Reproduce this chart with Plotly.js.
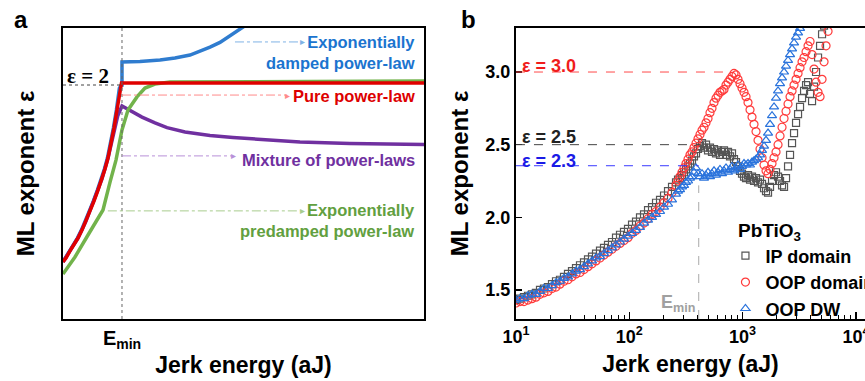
<!DOCTYPE html>
<html>
<head>
<meta charset="utf-8">
<script src="https://cdn.plot.ly/plotly-3.0.1.min.js"></script>
<style>html,body{margin:0;padding:0;background:#fff;}#chart{width:865px;height:381px;overflow:hidden;}</style>
</head>
<body>
<div id="chart"></div>
<script>
// ---------- Panel a: schematic curves (x in units of E_min, y in units of epsilon) ----------
const aPureX = [0, 0.051, 0.119, 0.186, 0.254, 0.322, 0.390, 0.458, 0.525, 0.593, 0.661, 0.712, 0.763, 0.814, 0.864, 0.915, 0.966, 0.992, 6.12];
const aPureY = [1.244, 1.261, 1.291, 1.316, 1.346, 1.380, 1.419, 1.462, 1.504, 1.551, 1.598, 1.641, 1.688, 1.748, 1.816, 1.893, 1.987, 2.009, 2.009];

const aDampX = [0, 0.041, 0.109, 0.176, 0.244, 0.312, 0.380, 0.448, 0.515, 0.583, 0.651, 0.702, 0.753, 0.804, 0.854, 0.905, 0.956, 0.99, 1.0, 1.0, 1.017, 1.305, 1.644, 1.898, 2.153, 2.322, 2.492, 2.661, 2.831, 2.966, 3.102, 3.2];
const aDampY = [1.244, 1.261, 1.291, 1.316, 1.346, 1.380, 1.419, 1.462, 1.504, 1.551, 1.598, 1.641, 1.688, 1.748, 1.816, 1.893, 1.987, 2.0, 2.0, 2.098, 2.098, 2.100, 2.107, 2.115, 2.128, 2.143, 2.162, 2.182, 2.209, 2.231, 2.256, 2.28];

const aMixX = [0, 0.119, 0.254, 0.390, 0.525, 0.661, 0.763, 0.864, 0.93, 1.0, 1.169, 1.339, 1.559, 1.763, 2.068, 2.492, 2.881, 3.424, 4.017, 4.864, 6.12];
const aMixY = [1.244, 1.291, 1.346, 1.419, 1.504, 1.598, 1.688, 1.80, 1.87, 1.910, 1.885, 1.863, 1.838, 1.818, 1.799, 1.784, 1.776, 1.765, 1.756, 1.750, 1.746];

const aPreX = [0, 0.203, 0.424, 0.678, 0.797, 0.898, 1.0, 1.102, 1.254, 1.390, 1.559, 1.814, 6.12];
const aPreY = [1.192, 1.265, 1.359, 1.466, 1.585, 1.679, 1.808, 1.893, 1.949, 1.987, 2.004, 2.013, 2.017];

// ---------- Panel b: measured ML exponent vs jerk energy (aJ) ----------
const energy = [10.0, 10.85, 11.77, 12.76, 13.84, 15.02, 16.29, 17.67, 19.16, 20.79,
  22.55, 24.46, 26.53, 28.77, 31.21, 33.86, 36.72, 39.83, 43.21, 46.87,
  50.84, 55.14, 59.81, 64.88, 70.37, 76.33, 82.79, 89.81, 97.41, 105.7,
  114.6, 124.3, 134.9, 146.3, 158.7, 172.1, 186.7, 202.5, 219.6, 238.2,
  258.4, 269.1, 280.3, 291.9, 304.0, 316.6, 329.7, 343.4, 357.6, 372.4,
  387.9, 404.0, 420.7, 438.2, 456.3, 475.3, 495.0, 515.5, 536.9, 559.2,
  582.4, 606.5, 631.6, 657.9, 685.1, 713.6, 743.2, 774.1, 806.2, 839.7,
  874.5, 910.8, 948.6, 987.9, 1028.9, 1071.6, 1116.0, 1162.3, 1210.5, 1260.8,
  1313.1, 1367.6, 1424.4, 1483.5, 1545.1, 1609.2, 1676.0, 1745.6, 1818.0, 1893.4,
  1972.0, 2053.9, 2139.2, 2227.8, 2320.3, 2416.6, 2516.9, 2621.3, 2730.0, 2843.4,
  2961.3, 3084.3, 3212.2, 3345.6, 3484.3, 3628.9, 3779.5, 3936.4, 4099.6, 4269.4,
  4446.4, 4631.0, 4823.1, 5023.1, 5231.4, 5448.6, 5674.3, 5909.6];

const ipDomain = [1.43, 1.44, 1.45, 1.46, 1.47, 1.48, 1.50, 1.51, 1.52, 1.54,
  1.56, 1.57, 1.59, 1.61, 1.63, 1.65, 1.67, 1.69, 1.71, 1.73,
  1.75, 1.77, 1.79, 1.81, 1.83, 1.86, 1.88, 1.90, 1.92, 1.95,
  1.97, 2.00, 2.02, 2.05, 2.07, 2.10, 2.12, 2.15, 2.18, 2.21,
  2.24, 2.26, 2.27, 2.29, 2.31, 2.33, 2.35, 2.37, 2.39, 2.42,
  2.44, 2.47, 2.49, 2.51, 2.48, 2.50, 2.46, 2.48, 2.45, 2.47,
  2.44, 2.46, 2.43, 2.45, 2.46, 2.43, 2.45, 2.42, 2.44, 2.40,
  2.38, 2.35, 2.32, 2.30, 2.28, 2.27, 2.29, 2.26, 2.28, 2.25,
  2.27, 2.24, 2.26, 2.23, 2.20, 2.18, 2.17, 2.21, 2.25, 2.29,
  2.31, 2.28, 2.25, 2.22, 2.21, 2.27, 2.35, 2.43, 2.51, 2.58,
  2.65, 2.71, 2.76, 2.82, 2.87, 2.91, 2.93, 2.85, 2.80, 2.90,
  3.00, 3.10, 3.18, 3.26, 3.32];

const oopDomain = [1.41, 1.42, 1.42, 1.43, 1.44, 1.45, 1.47, 1.48, 1.49, 1.51,
  1.52, 1.54, 1.56, 1.57, 1.59, 1.61, 1.62, 1.64, 1.66, 1.68,
  1.70, 1.72, 1.74, 1.76, 1.78, 1.80, 1.82, 1.84, 1.86, 1.89,
  1.91, 1.94, 1.96, 1.99, 2.02, 2.04, 2.07, 2.10, 2.13, 2.17,
  2.22, 2.25, 2.28, 2.31, 2.34, 2.37, 2.40, 2.43, 2.45, 2.48,
  2.51, 2.54, 2.57, 2.60, 2.62, 2.65, 2.68, 2.72, 2.75, 2.79,
  2.82, 2.84, 2.86, 2.87, 2.88, 2.91, 2.93, 2.95, 2.97, 2.99,
  2.98, 2.95, 2.92, 2.89, 2.86, 2.83, 2.79, 2.74, 2.69, 2.64,
  2.59, 2.53, 2.47, 2.41, 2.36, 2.32, 2.30, 2.33, 2.37, 2.41,
  2.45, 2.50, 2.56, 2.62, 2.68, 2.73, 2.78, 2.83, 2.87, 2.91,
  2.95, 2.99, 3.03, 3.07, 3.10, 3.14, 3.18, 3.21, 3.12, 3.02,
  2.93, 2.86, 2.83, 2.95, 3.07, 3.18, 3.28, 3.35];

const oopDW = [1.43, 1.44, 1.44, 1.46, 1.47, 1.47, 1.49, 1.51, 1.51, 1.53,
  1.55, 1.56, 1.58, 1.59, 1.61, 1.63, 1.64, 1.66, 1.68, 1.70,
  1.72, 1.73, 1.75, 1.77, 1.79, 1.81, 1.83, 1.85, 1.87, 1.89,
  1.91, 1.93, 1.96, 1.98, 2.00, 2.02, 2.04, 2.07, 2.09, 2.12,
  2.16, 2.18, 2.19, 2.21, 2.22, 2.24, 2.25, 2.27, 2.28, 2.31,
  2.34, 2.30, 2.28, 2.30, 2.27, 2.29, 2.31, 2.28, 2.30, 2.32,
  2.29, 2.31, 2.33, 2.30, 2.32, 2.34, 2.31, 2.33, 2.35, 2.32,
  2.34, 2.36, 2.33, 2.35, 2.37, 2.36, 2.37, 2.36, 2.38, 2.39,
  2.40, 2.41, 2.43, 2.46, 2.49, 2.53, 2.58, 2.64, 2.70, 2.76,
  2.82, 2.87, 2.92, 2.96, 3.00, 3.04, 3.08, 3.12, 3.16, 3.20,
  3.24, 3.27, 3.30, 3.33];

const seriesNames = ['IP domain', 'OOP domain', 'OOP DW'];
const guideEps = [3.0, 2.5, 2.355];
const guideE = [806, 421, 410];
const guideLabels = ['ε = 3.0', 'ε = 2.5', 'ε = 2.3'];
const eMin = 410;
const eMinTop = 2.22;
const xTickVals = [10, 100, 1000, 10000];
const xTickText = ['10<sup>1</sup>', '10<sup>2</sup>', '10<sup>3</sup>', '10<sup>4</sup>'];
const yTickVals = [1.5, 2.0, 2.5, 3.0];

// ---------- styling ----------
const FONT = 'Liberation Sans, Arial, sans-serif';
const C = {blue: '#2f7ccf', red: '#e00000', purple: '#7030a0', green: '#72b34b'};

const traces = [
  {x: aDampX, y: aDampY, xaxis: 'x', yaxis: 'y', mode: 'lines', line: {color: C.blue, width: 3.5}, showlegend: false, hoverinfo: 'skip'},
  {x: aMixX, y: aMixY, xaxis: 'x', yaxis: 'y', mode: 'lines', line: {color: C.purple, width: 3.5}, showlegend: false, hoverinfo: 'skip'},
  {x: aPreX, y: aPreY, xaxis: 'x', yaxis: 'y', mode: 'lines', line: {color: C.green, width: 3.5}, showlegend: false, hoverinfo: 'skip'},
  {x: aPureX, y: aPureY, xaxis: 'x', yaxis: 'y', mode: 'lines', line: {color: C.red, width: 3.5}, showlegend: false, hoverinfo: 'skip'},
  {x: energy, y: ipDomain, name: seriesNames[0], xaxis: 'x2', yaxis: 'y2', mode: 'markers',
   marker: {symbol: 'square-open', size: 7, color: '#555555', line: {width: 1.2}}},
  {x: energy, y: oopDomain, name: seriesNames[1], xaxis: 'x2', yaxis: 'y2', mode: 'markers',
   marker: {symbol: 'circle-open', size: 8, color: '#ff3b3b', line: {width: 1.2}}},
  {x: energy, y: oopDW, name: seriesNames[2], xaxis: 'x2', yaxis: 'y2', mode: 'markers',
   marker: {symbol: 'triangle-up-open', size: 8, color: '#2a73dc', line: {width: 1.2}}}
];

// minor log ticks for panel b
const minorVals = [];
for (let d = 10; d < 20000; d *= 10) for (let m = 2; m <= 9; m++) minorVals.push(d * m);

const guideColors = ['#ff4a4a', '#444444', '#3a3aff'];
const labelColors = ['#f01c1c', '#222222', '#1a1ae6'];
const labelY = [3.04, 2.552, 2.39];

const arrows = [
  {x0: 2.915, x1: 4.10, y: 2.184, color: '#7fb2e5'},
  {x0: 1.0, x1: 3.85, y: 1.957, color: '#ff8a8a'},
  {x0: 1.0, x1: 2.93, y: 1.697, color: '#b890d8'},
  {x0: 0.76, x1: 4.10, y: 1.462, color: '#a8cc8e'}
];

const shapes = [
  {type: 'line', xref: 'x', yref: 'y', x0: 1, x1: 1, y0: 1.0, y1: 2.2436, line: {color: '#666', width: 1, dash: 'dot'}},
  {type: 'line', xref: 'x', yref: 'y', x0: 0, x1: 1, y0: 2.0, y1: 2.0, line: {color: '#444', width: 1, dash: 'dot'}},
  {type: 'line', xref: 'x2', yref: 'y2', x0: eMin, x1: eMin, y0: 1.30, y1: eMinTop, line: {color: '#aaaaaa', width: 1, dash: 'dash'}}
];
arrows.forEach(a => shapes.push({type: 'line', xref: 'x', yref: 'y', x0: a.x0, x1: a.x1 - 0.05, y0: a.y, y1: a.y,
  line: {color: a.color, width: 1, dash: 'dashdot'}}));
guideEps.forEach((v, i) => {
  shapes.push({type: 'line', xref: 'x2', yref: 'y2', x0: 10, x1: guideE[i], y0: v, y1: v,
    line: {color: guideColors[i], width: 1, dash: 'dash'}});
});

const bold = (size, color) => ({family: FONT, size: size, color: color || '#000', weight: 'bold'});

const annotations = [
  {xref: 'paper', yref: 'paper', x: -0.052, y: 1.028, text: 'a', showarrow: false, font: bold(24), xanchor: 'center', yanchor: 'middle'},
  {xref: 'paper', yref: 'paper', x: 0.505, y: 1.028, text: 'b', showarrow: false, font: bold(24), xanchor: 'center', yanchor: 'middle'},
  {xref: 'x', yref: 'y', x: 0.04, y: 2.04, text: 'ε = 2', showarrow: false, xanchor: 'left', yanchor: 'middle',
   font: {family: 'Liberation Serif, Times New Roman, serif', size: 21, color: '#000', weight: 'bold'}},
  {xref: 'x', yref: 'y', x: 6.0, y: 2.139, text: 'Exponentially<br>damped power-law', showarrow: false, xanchor: 'right', align: 'right', yanchor: 'middle', font: bold(16.5, '#1b74cf')},
  {xref: 'x', yref: 'y', x: 6.0, y: 1.953, text: 'Pure power-law', showarrow: false, xanchor: 'right', yanchor: 'middle', font: bold(16.5, '#dd0000')},
  {xref: 'x', yref: 'y', x: 6.0, y: 1.679, text: 'Mixture of power-laws', showarrow: false, xanchor: 'right', yanchor: 'middle', font: bold(16.5, '#7030a0')},
  {xref: 'x', yref: 'y', x: 6.0, y: 1.419, text: 'Exponentially<br>predamped power-law', showarrow: false, xanchor: 'right', align: 'right', yanchor: 'middle', font: bold(16.5, '#62a040')},
  {xref: 'x2', yref: 'y2', x: 2.598, y: 1.41, text: 'E<sub>min</sub>', showarrow: false, xanchor: 'right', yanchor: 'middle', font: bold(18, '#a0a0a0')}
];
arrows.forEach(a => annotations.push({xref: 'x', yref: 'y', x: a.x1 + 0.03, y: a.y, text: '▸', showarrow: false,
  xanchor: 'right', yanchor: 'middle', font: {family: 'DejaVu Sans', size: 10, color: a.color}}));
guideLabels.forEach((t, i) => {
  annotations.push({xref: 'x2', yref: 'y2', x: 1.035, y: labelY[i], text: t, showarrow: false,
    xanchor: 'left', yanchor: 'middle', font: bold(18, labelColors[i])});
});

const layout = {
  width: 865, height: 381,
  margin: {l: 63, r: 0, t: 28, b: 62, autoexpand: false},
  paper_bgcolor: '#fff', plot_bgcolor: '#fff',
  font: {family: FONT, color: '#000'},
  xaxis: {domain: [0, 0.4501], range: [0, 6.119], showgrid: false, zeroline: false,
    showline: true, mirror: true, linecolor: '#000', linewidth: 2,
    ticks: '', tickvals: [1], ticktext: ['E<sub>min</sub>'], tickfont: bold(20),
    title: {text: 'Jerk energy (aJ)', font: bold(23), standoff: 6}},
  yaxis: {domain: [0, 1], range: [1.0, 2.2436], showgrid: false, zeroline: false,
    showline: true, mirror: true, linecolor: '#000', linewidth: 2, showticklabels: false, ticks: '',
    title: {text: 'ML exponent ε', font: bold(24), standoff: 20}},
  xaxis2: {domain: [0.5648, 1], type: 'log', range: [1, 4.080], anchor: 'y2', showgrid: false, zeroline: false,
    showline: true, mirror: true, linecolor: '#000', linewidth: 2,
    ticks: 'inside', ticklen: 7, tickwidth: 1.5, tickcolor: '#000', ticklabeloverflow: 'allow',
    tickvals: xTickVals, ticktext: xTickText, tickfont: bold(18),
    minor: {tickvals: minorVals, ticks: 'inside', ticklen: 4, tickwidth: 1, tickcolor: '#000'},
    title: {text: 'Jerk energy (aJ)', font: bold(23), standoff: 10}},
  yaxis2: {domain: [0, 1], range: [1.30, 3.303], anchor: 'x2', showgrid: false, zeroline: false,
    showline: true, mirror: false, linecolor: '#000', linewidth: 2,
    ticks: 'inside', ticklen: 6, tickwidth: 1.5, tickcolor: '#000',
    tickvals: yTickVals, tickformat: '.1f', tickfont: bold(18),
    title: {text: 'ML exponent ε', font: bold(24), standoff: 10}},
  showlegend: true,
  legend: {x: 0.826, y: 0.365, xanchor: 'left', yanchor: 'top', bgcolor: 'rgba(0,0,0,0)',
    font: bold(18), tracegroupgap: 0,
    title: {text: '\u00a0\u00a0PbTiO<sub>3</sub>', font: bold(19)}},
  shapes: shapes,
  annotations: annotations
};

Plotly.newPlot('chart', traces, layout, {displayModeBar: false, staticPlot: true});
</script>
</body>
</html>
